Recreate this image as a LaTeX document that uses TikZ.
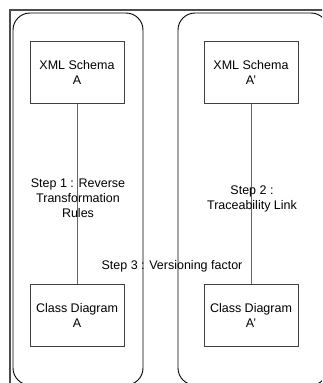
\documentclass[tikz,border=0pt]{standalone}
\usepackage{fontspec}
\setmainfont{Liberation Sans}
\begin{document}
\begin{tikzpicture}[x=1pt,y=-1pt,
  font=\fontsize{12.5}{15}\selectfont,
  box/.style={draw=black!75, line width=1pt, minimum width=94pt, minimum height=62pt, align=center, inner sep=0pt},
  lane/.style={draw=black, line width=0.9pt, rounded corners=17pt},
  frame/.style={draw=black!70, line width=1.5pt},
  link/.style={draw=black!60, line width=1pt},
  lbl/.style={align=center, inner sep=0pt}]
\useasboundingbox (0,0) rectangle (322,383);
\clip (0,0) rectangle (322,383);
\draw[frame] (10,400) -- (10,10) -- (340,10);
\draw[lane] (13,13) rectangle (143,385);
\draw[lane] (178,13) rectangle (328,385);
\node[box] (xa) at (77,72) {XML Schema\\A};
\node[box] (xb) at (251,72) {XML Schema\\A'};
\node[box] (ca) at (77,315) {Class Diagram\\A};
\node[box] (cb) at (251,315) {Class Diagram\\A'};
\draw[link] (xa) -- (ca);
\draw[link] (xb) -- (cb);
\node[lbl] (s1) at (78,198) {Step 1 : Reverse\\Transformation\\Rules};
\node[lbl] (s2) at (252,198.5) {Step 2 :\\Traceability Link};
\node[lbl] (s3) at (172,266) {Step 3 : Versioning factor};
\end{tikzpicture}
\end{document}
